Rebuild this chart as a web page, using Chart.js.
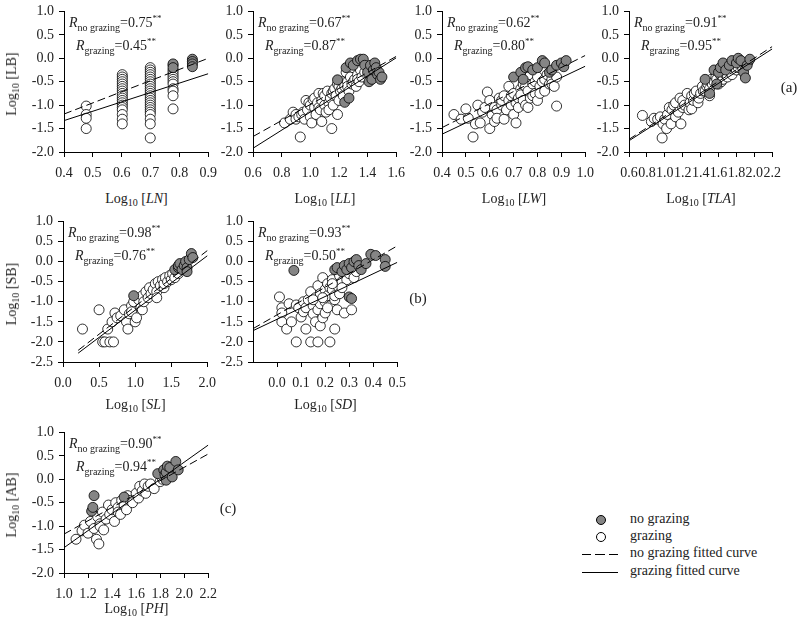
<!DOCTYPE html>
<html>
<head>
<meta charset="UTF-8">
<title>Log-log relations, grazing vs no grazing</title>
<style>
  body { margin: 0; background: #fff; font-family: "Liberation Serif", "Times New Roman", serif; color: #222; }
  #wrap { position: relative; width: 800px; height: 632px; overflow: hidden; }
  #wrap canvas { position: absolute; }
  .t { position: absolute; white-space: nowrap; font-size: 14px; line-height: 1; transform: translate(-50%, -50%); }
  .t sub { font-size: 10px; vertical-align: -3px; }
  .yt { transform: translate(-50%, -50%) rotate(-90deg); }
  .r { position: absolute; white-space: nowrap; font-size: 14px; line-height: 1; }
  .r sub { font-size: 10px; vertical-align: -4px; }
  .r sup { font-size: 9px; vertical-align: 6px; }
  .lab { position: absolute; font-size: 15px; line-height: 1; transform: translate(-50%, -50%); }
  .lg { position: absolute; font-size: 14px; line-height: 1; white-space: nowrap; }
  .dot { position: absolute; width: 8px; height: 8px; border: 1px solid #000; border-radius: 50%; }
  .ln { position: absolute; width: 36px; height: 1px; background: #000; }
  .ln.dash { background: repeating-linear-gradient(to right, #000 0 9px, transparent 9px 13.5px); }
</style>
</head>
<body>
<div id="wrap"></div>

<script src="https://cdn.jsdelivr.net/npm/chart.js"></script>
<script>
// ---- data: [log10 x, log10 y] ----
// (a) LB vs LN
const LN_gr = [[0.477,-1.02],[0.477,-1.2],[0.477,-1.28],[0.477,-1.5],
  [0.602,-0.35],[0.602,-0.4],[0.602,-0.45],[0.602,-0.5],[0.602,-0.55],[0.602,-0.6],[0.602,-0.65],[0.602,-0.7],[0.602,-0.75],[0.602,-0.8],[0.602,-0.85],[0.602,-0.9],[0.602,-0.95],[0.602,-1.0],[0.602,-1.05],[0.602,-1.1],[0.602,-1.2],[0.602,-1.3],[0.602,-1.4],
  [0.699,-0.2],[0.699,-0.25],[0.699,-0.3],[0.699,-0.35],[0.699,-0.4],[0.699,-0.45],[0.699,-0.5],[0.699,-0.55],[0.699,-0.6],[0.699,-0.65],[0.699,-0.7],[0.699,-0.75],[0.699,-0.8],[0.699,-0.85],[0.699,-0.9],[0.699,-0.95],[0.699,-1.0],[0.699,-1.05],[0.699,-1.1],[0.699,-1.15],[0.699,-1.2],[0.699,-1.3],[0.699,-1.4],[0.699,-1.7],
  [0.778,-0.15],[0.778,-0.25],[0.778,-0.3],[0.778,-0.35],[0.778,-0.4],[0.778,-0.45],[0.778,-0.5],[0.778,-0.55],[0.778,-0.65],[0.778,-0.7],[0.778,-0.8],[0.778,-1.08]];
const LN_nogr = [[0.778,-0.12],[0.778,-0.2],[0.845,-0.02],[0.845,-0.07],[0.845,-0.12],[0.845,-0.18]];
const LN_fitNo = [[0.4,-1.19],[0.9,0.0]];
const LN_fitGr = [[0.4,-1.33],[0.9,-0.33]];

// (a) LB vs LL
const LL_gr = [[0.82,-1.38],[0.86,-1.3],[0.88,-1.15],[0.9,-1.2],[0.9,-1.3],[0.92,-1.25],[0.93,-1.68],[0.94,-1.2],[0.95,-1.15],[0.96,-1.3],[0.97,-0.9],[0.98,-1.1],
  [0.99,-0.95],[1.0,-1.0],[1.0,-1.25],[1.01,-1.38],[1.02,-0.88],[1.03,-1.05],[1.03,-0.85],[1.04,-1.2],[1.05,-0.95],[1.06,-0.75],[1.06,-1.05],[1.07,-1.1],
  [1.08,-0.9],[1.08,-1.35],[1.09,-0.75],[1.1,-1.0],[1.1,-0.8],[1.11,-1.15],[1.12,-0.7],[1.13,-0.95],[1.13,-1.1],[1.14,-0.85],[1.15,-1.5],[1.15,-0.75],
  [1.16,-1.0],[1.16,-0.7],[1.17,-0.65],[1.18,-0.8],[1.19,-1.2],[1.19,-0.55],[1.2,-0.6],[1.2,-0.9],[1.21,-0.7],[1.22,-0.5],[1.22,-0.65],[1.23,-0.8],
  [1.24,-0.6],[1.25,-0.3],[1.26,-0.5],[1.26,-0.6],[1.27,-0.7],[1.28,-0.4],[1.29,-0.55],[1.3,-0.2],[1.3,-0.5],[1.31,-0.45],[1.32,-0.6],[1.33,-0.35],
  [1.33,-0.45],[1.34,-0.5],[1.35,-0.25],[1.36,-0.4],[1.38,-0.3]];
const LL_nogr = [[1.19,-0.46],[1.24,-0.94],[1.25,-0.2],[1.27,-0.85],[1.28,-0.1],[1.3,-0.15],[1.33,-0.05],[1.35,-0.02],[1.37,-0.02],[1.38,-0.15],
  [1.4,-0.3],[1.41,-0.5],[1.42,-0.15],[1.43,-0.45],[1.44,-0.25],[1.45,-0.1],[1.46,-0.2],[1.47,-0.35],[1.48,-0.3],[1.49,-0.45],[1.5,-0.4]];
const LL_fitNo = [[0.6,-1.67],[1.6,0.04]];
const LL_fitGr = [[0.6,-1.92],[1.6,0.01]];

// (a) LB vs LW
const LW_gr = [[0.45,-1.2],[0.48,-1.3],[0.5,-1.08],[0.51,-1.28],[0.53,-1.68],[0.54,-1.4],[0.55,-1.0],[0.56,-1.38],[0.57,-1.15],[0.58,-1.05],
  [0.59,-0.72],[0.6,-1.5],[0.6,-0.9],[0.61,-1.2],[0.62,-1.35],[0.62,-1.05],[0.63,-1.1],[0.63,-1.28],[0.64,-0.85],[0.65,-1.0],[0.65,-0.9],[0.66,-0.8],
  [0.66,-1.3],[0.67,-1.1],[0.68,-0.9],[0.68,-0.6],[0.69,-1.0],[0.69,-0.8],[0.7,-0.75],[0.7,-1.2],[0.71,-1.38],[0.71,-0.95],[0.72,-0.85],[0.72,-1.05],
  [0.73,-0.65],[0.73,-0.78],[0.74,-0.9],[0.74,-0.55],[0.75,-1.0],[0.75,-0.6],[0.76,-0.7],[0.76,-1.05],[0.77,-0.35],[0.77,-0.85],[0.78,-0.55],
  [0.78,-0.8],[0.79,-0.75],[0.79,-0.5],[0.8,-0.4],[0.8,-0.9],[0.81,-0.6],[0.81,-0.75],[0.82,-0.5],[0.83,-0.7],[0.83,-0.45],[0.84,-0.35],[0.85,-0.55],
  [0.86,-0.45],[0.86,-0.55],[0.87,-0.6],[0.88,-1.02],[0.88,-0.4]];
const LW_nogr = [[0.7,-0.4],[0.73,-0.3],[0.74,-0.45],[0.75,-0.2],[0.76,-0.18],[0.78,-0.25],[0.8,-0.2],[0.82,-0.05],[0.83,-0.1],[0.85,-0.3],
  [0.86,-0.25],[0.88,-0.15],[0.9,-0.1],[0.91,-0.18],[0.92,-0.05]];
const LW_fitNo = [[0.4,-1.48],[1.0,0.06]];
const LW_fitGr = [[0.4,-1.62],[1.0,-0.17]];

// (a) LB vs TLA
const TLA_gr = [[0.75,-1.22],[0.85,-1.35],[0.88,-1.28],[0.92,-1.3],[0.95,-1.25],[0.97,-1.7],[0.98,-1.4],[1.0,-1.3],[1.02,-1.5],[1.03,-1.2],
  [1.05,-1.05],[1.07,-1.4],[1.08,-1.1],[1.1,-1.0],[1.12,-0.95],[1.12,-1.25],[1.15,-1.15],[1.17,-0.85],[1.18,-1.4],[1.2,-0.9],[1.2,-1.05],[1.22,-1.0],
  [1.25,-0.75],[1.27,-1.1],[1.28,-0.95],[1.3,-0.8],[1.3,-1.08],[1.32,-0.9],[1.33,-0.75],[1.35,-0.7],[1.37,-0.95],[1.38,-0.85],[1.4,-0.75],[1.42,-0.6],
  [1.43,-0.7],[1.45,-0.7],[1.47,-0.6],[1.48,-0.55],[1.5,-0.65],[1.5,-0.8],[1.52,-0.45],[1.53,-0.55],[1.55,-0.5],[1.57,-0.4],[1.58,-0.45],[1.6,-0.55],
  [1.62,-0.35],[1.63,-0.5],[1.65,-0.45],[1.67,-0.3],[1.68,-0.35],[1.7,-0.4],[1.72,-0.25],[1.73,-0.3],[1.75,-0.35],[1.78,-0.2],[1.8,-0.25],[1.82,-0.2],
  [1.85,-0.15],[1.87,-0.2],[1.9,-0.1],[1.93,-0.08]];
const TLA_nogr = [[1.45,-0.45],[1.5,-0.75],[1.55,-0.25],[1.58,-0.55],[1.6,-0.3],[1.62,-0.2],[1.65,-0.1],[1.68,-0.25],[1.72,-0.15],[1.75,-0.05],
  [1.8,-0.1],[1.82,0.0],[1.85,-0.05],[1.88,-0.3],[1.9,-0.42],[1.92,-0.15],[1.95,-0.02]];
const TLA_fitNo = [[0.6,-1.73],[2.2,0.25]];
const TLA_fitGr = [[0.6,-1.76],[2.2,0.2]];

// (b) SB vs SL
const SL_gr = [[0.27,-1.68],[0.5,-1.2],[0.55,-2.0],[0.58,-2.0],[0.62,-1.68],[0.65,-2.0],[0.68,-1.5],[0.7,-2.0],[0.72,-1.28],[0.75,-1.4],
  [0.8,-1.35],[0.85,-1.2],[0.88,-1.5],[0.9,-1.68],[0.92,-1.3],[0.95,-1.1],[0.95,-1.25],[0.98,-1.0],[1.0,-1.5],[1.02,-1.4],[1.05,-0.95],[1.08,-1.15],
  [1.1,-0.85],[1.1,-1.2],[1.12,-1.0],[1.15,-0.75],[1.18,-0.9],[1.2,-0.65],[1.22,-0.8],[1.25,-0.7],[1.28,-0.55],[1.3,-0.75],[1.3,-0.9],[1.32,-0.5],
  [1.35,-0.6],[1.38,-0.45],[1.4,-0.65],[1.4,-0.55],[1.42,-0.4],[1.45,-0.5],[1.48,-0.35],[1.5,-0.45],[1.52,-0.3],[1.55,-0.4],[1.58,-0.25],[1.6,-0.3]];
const SL_nogr = [[0.98,-0.85],[1.55,-0.2],[1.6,-0.15],[1.6,-0.1],[1.62,-0.05],[1.65,-0.2],[1.68,-0.1],[1.7,0.0],[1.72,-0.15],[1.72,-0.25],
  [1.75,0.05],[1.78,0.2],[1.8,0.1]];
const SL_fitNo = [[0.21,-2.21],[2.02,0.3]];
const SL_fitGr = [[0.21,-2.28],[2.02,0.17]];

// (b) SB vs SD
const SD_gr = [[0.01,-0.88],[0.02,-1.15],[0.02,-1.28],[0.02,-1.5],[0.04,-1.68],[0.05,-1.05],[0.06,-1.5],[0.08,-1.08],[0.08,-2.0],[0.09,-1.15],
  [0.1,-1.38],[0.11,-1.0],[0.11,-1.25],[0.12,-1.68],[0.12,-1.15],[0.13,-0.95],[0.14,-0.75],[0.14,-2.0],[0.15,-1.1],[0.15,-1.3],[0.16,-0.9],[0.16,-1.5],
  [0.17,-0.6],[0.17,-1.2],[0.17,-2.0],[0.18,-0.8],[0.18,-1.05],[0.18,-1.6],[0.19,-0.4],[0.19,-1.4],[0.2,-0.7],[0.2,-1.0],[0.2,-1.28],[0.21,-0.55],
  [0.21,-0.85],[0.22,-1.1],[0.22,-2.0],[0.22,-0.65],[0.23,-0.45],[0.23,-0.7],[0.24,-0.95],[0.24,-1.68],[0.24,-0.85],[0.25,-0.6],[0.25,-1.2],
  [0.26,-0.35],[0.26,-0.8],[0.27,-0.5],[0.28,-1.28],[0.29,-0.45],[0.3,-0.3],[0.31,-1.2],[0.32,-0.4],[0.33,-0.25],
  [0.15,-0.95],[0.19,-0.9],[0.21,-1.15],[0.23,-0.55],[0.27,-0.65]];
const SD_nogr = [[0.07,-0.22],[0.24,-0.2],[0.25,-0.15],[0.27,-0.25],[0.28,-0.1],[0.29,-0.2],[0.3,-0.05],[0.3,-0.88],[0.31,-0.15],[0.31,-0.92],
  [0.32,0.0],[0.33,0.05],[0.34,-0.1],[0.35,-0.2],[0.37,-0.05],[0.39,0.18],[0.41,0.15],[0.45,0.05],[0.45,-0.12]];
const SD_fitNo = [[-0.1,-1.67],[0.5,0.39]];
const SD_fitGr = [[-0.1,-1.72],[0.5,-0.02]];

// (c) AB vs PH
const PH_gr = [[1.1,-1.28],[1.15,-1.1],[1.17,-0.98],[1.2,-1.15],[1.22,-0.9],[1.25,-1.05],[1.27,-1.28],[1.28,-0.8],[1.29,-1.38],[1.3,-0.95],
  [1.3,-1.0],[1.32,-0.7],[1.33,-1.08],[1.35,-0.85],[1.37,-0.55],[1.38,-0.75],[1.4,-0.65],[1.42,-0.9],[1.43,-0.5],[1.45,-0.6],[1.45,-0.7],
  [1.47,-0.75],[1.48,-0.45],[1.5,-0.55],[1.52,-0.65],[1.53,-0.35],[1.55,-0.45],[1.57,-0.5],[1.6,-0.3],[1.62,-0.4],[1.63,-0.15],[1.65,-0.25],
  [1.67,-0.1],[1.68,-0.3],[1.7,-0.15],[1.72,-0.1],[1.75,-0.2],[1.8,-0.05],[1.82,0.0],[1.85,0.05],[1.87,0.1],[1.9,0.15]];
const PH_nogr = [[1.23,-0.68],[1.24,-0.6],[1.25,-0.35],[1.5,-0.38],[1.78,0.12],[1.83,0.2],[1.84,0.1],[1.85,-0.02],[1.85,0.15],[1.86,0.28],
  [1.88,0.25],[1.9,0.05],[1.93,0.38],[1.95,0.2]];
const PH_fitNo = [[1.0,-1.17],[2.2,0.54]];
const PH_fitGr = [[1.0,-1.46],[2.2,0.73]];

// R values shown in each panel
const rNoGrazing = ['0.75','0.67','0.62','0.91','0.98','0.93','0.90'];
const rGrazing   = ['0.45','0.87','0.80','0.95','0.76','0.50','0.94'];

// panel layout: plot-area left/top and size in px, axis ranges
const panels = [
  {left:64,  top:8,   w:145, h:144, x:[0.4,0.9,0.1],  y:[-2,1], gr:LN_gr,  nogr:LN_nogr,  fitNo:LN_fitNo,  fitGr:LN_fitGr,  xt:'LN',  yt:'LB', xtY:200},
  {left:253, top:8,   w:144, h:144, x:[0.6,1.6,0.2],  y:[-2,1], gr:LL_gr,  nogr:LL_nogr,  fitNo:LL_fitNo,  fitGr:LL_fitGr,  xt:'LL',  xtY:200},
  {left:442, top:8,   w:144, h:144, x:[0.4,1.0,0.1],  y:[-2,1], gr:LW_gr,  nogr:LW_nogr,  fitNo:LW_fitNo,  fitGr:LW_fitGr,  xt:'LW',  xtY:200},
  {left:629, top:8,   w:144, h:144, x:[0.6,2.2,0.2],  y:[-2,1], gr:TLA_gr, nogr:TLA_nogr, fitNo:TLA_fitNo, fitGr:TLA_fitGr, xt:'TLA', xtY:200},
  {left:63,  top:218, w:145, h:144, x:[0,2,0.5],      y:[-2.5,1], gr:SL_gr, nogr:SL_nogr,  fitNo:SL_fitNo,  fitGr:SL_fitGr,  xt:'SL',  yt:'SB', xtY:406},
  {left:253, top:218, w:145, h:144, x:[-0.1,0.5,0.1], y:[-2.5,1], gr:SD_gr, nogr:SD_nogr,  fitNo:SD_fitNo,  fitGr:SD_fitGr,  xt:'SD',  xtY:406},
  {left:64,  top:429, w:145, h:144, x:[1.0,2.2,0.2],  y:[-2,1], gr:PH_gr,  nogr:PH_nogr,  fitNo:PH_fitNo,  fitGr:PH_fitGr,  xt:'PH',  yt:'AB', xtY:610}
];

const wrap = document.getElementById('wrap');
const PADL = 45, PADT = 10, PADR = 16, PADB = 36;
const fmt = v => Math.abs(v) < 1e-9 ? '0.0' : Number(v).toFixed(1);
const tickFont = { family: '"Liberation Serif", "Times New Roman", serif', size: 14 };

function addHtml(cls, x, y, html) {
  const d = document.createElement('div');
  d.className = cls;
  d.style.left = x + 'px';
  d.style.top = y + 'px';
  d.innerHTML = html;
  wrap.appendChild(d);
  return d;
}

panels.forEach((p, i) => {
  const cv = document.createElement('canvas');
  const cw = p.w + PADL + PADR, ch = p.h + PADT + PADB;
  cv.width = cw; cv.height = ch;
  cv.style.left = (p.left - PADL) + 'px';
  cv.style.top = (p.top - PADT) + 'px';
  cv.style.width = cw + 'px'; cv.style.height = ch + 'px';
  wrap.appendChild(cv);

  const axis = {
    grid: { drawOnChartArea: false, drawTicks: true, tickLength: 5, color: '#000' },
    border: { display: true, color: '#000', width: 1 },
    ticks: { color: '#222', font: tickFont, callback: fmt, autoSkip: false, maxRotation: 0 }
  };

  new Chart(cv, {
    type: 'scatter',
    data: {
      datasets: [
        { data: p.fitNo.map(([x,y]) => ({x,y})), showLine: true, pointRadius: 0, borderColor: '#000', borderWidth: 1, borderDash: [8,4], order: 0 },
        { data: p.fitGr.map(([x,y]) => ({x,y})), showLine: true, pointRadius: 0, borderColor: '#000', borderWidth: 1, order: 0 },
        { data: p.nogr.map(([x,y]) => ({x,y})), pointRadius: 5, pointBackgroundColor: '#858585', pointBorderColor: '#000', pointBorderWidth: 0.8, order: 1 },
        { data: p.gr.map(([x,y]) => ({x,y})), pointRadius: 5, pointBackgroundColor: '#fff', pointBorderColor: '#000', pointBorderWidth: 0.8, order: 2 }
      ]
    },
    options: {
      responsive: false,
      animation: false,
      layout: { padding: { left: 0, top: PADT, right: PADR, bottom: 0 } },
      plugins: { legend: { display: false }, tooltip: { enabled: false } },
      scales: {
        x: Object.assign({}, axis, {
          type: 'linear', min: p.x[0], max: p.x[1],
          ticks: Object.assign({}, axis.ticks, { stepSize: p.x[2], padding: 8 }),
          afterBuildTicks: a => { a.ticks = a.ticks.filter(t => t.value > -0.05); },
          afterFit: s => { s.height = PADB; }
        }),
        y: Object.assign({}, axis, {
          type: 'linear', min: p.y[0], max: p.y[1],
          ticks: Object.assign({}, axis.ticks, { stepSize: 0.5, padding: 5 }),
          afterFit: s => { s.width = PADL; }
        })
      }
    }
  });

  // axis titles
  addHtml('t', p.left + p.w / 2, p.xtY, 'Log<sub>10</sub> [<i>' + p.xt + '</i>]');
  if (p.yt) addHtml('t yt', 13, p.top + p.h / 2 + 4, 'Log<sub>10</sub> [' + p.yt + ']');

  // correlation annotations
  addHtml('r', p.left + 5, p.top + 6, '<i>R</i><sub>no grazing</sub>=' + rNoGrazing[i] + '<sup>**</sup>');
  addHtml('r', p.left + 12, p.top + 29, '<i>R</i><sub>grazing</sub>=' + rGrazing[i] + '<sup>**</sup>');
});

// panel group labels
addHtml('lab', 789, 87, '(a)');
addHtml('lab', 418, 298, '(b)');
addHtml('lab', 228, 508, '(c)');

// legend
const legendY = [520, 537, 554, 572];
const gd = addHtml('dot', 596, legendY[0] - 5, ''); gd.style.background = '#858585';
const wd = addHtml('dot', 596, legendY[1] - 5, ''); wd.style.background = '#fff';
addHtml('ln dash', 582, legendY[2], '');
addHtml('ln', 582, legendY[3], '');
['no grazing', 'grazing', 'no grazing fitted curve', 'grazing fitted curve'].forEach((s, k) => {
  addHtml('lg', 630, legendY[k] - 8, s);
});
</script>
</body>
</html>
